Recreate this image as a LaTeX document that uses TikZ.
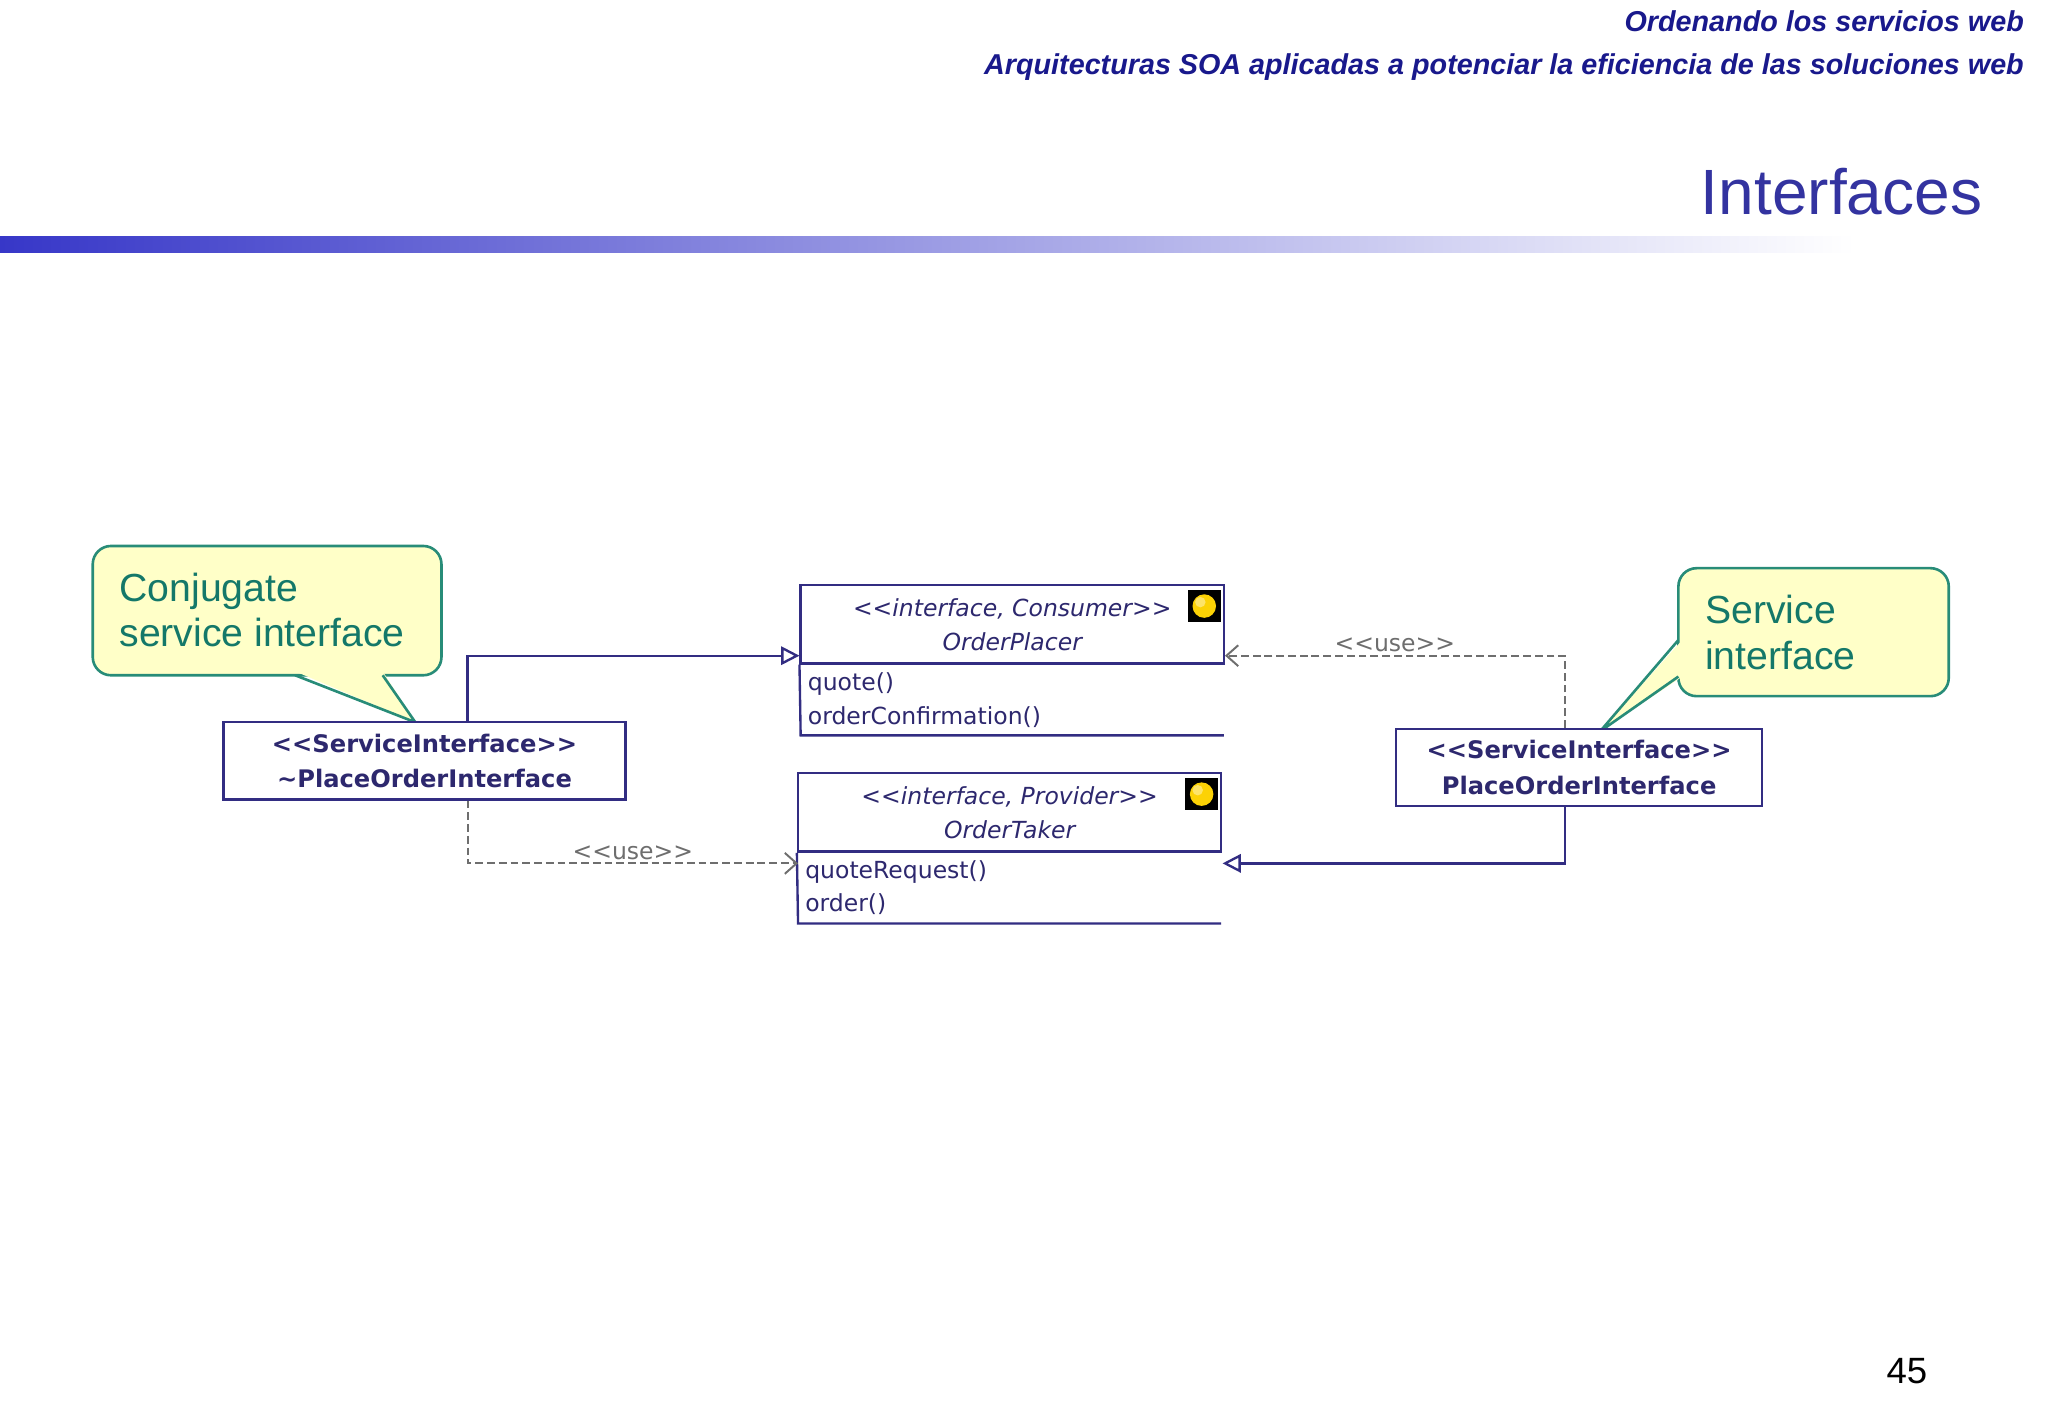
\documentclass[tikz,border=0pt]{standalone}
\usepackage{fontspec}
\setmainfont{Liberation Sans}
\newfontfamily\umlf{DejaVu Sans}
\usetikzlibrary{arrows.meta}
\definecolor{hdr}{RGB}{25,25,140}
\definecolor{ttl}{RGB}{51,51,160}
\definecolor{umlc}{RGB}{45,40,110}
\definecolor{umll}{RGB}{50,45,130}
\definecolor{calf}{RGB}{255,255,200}
\definecolor{cald}{RGB}{40,140,120}
\definecolor{calt}{RGB}{20,120,105}
\definecolor{gry}{RGB}{110,110,110}
\tikzset{
 umlbox/.style={draw=umll,line width=1.8pt,fill=white,minimum width=#1,inner sep=0pt},
 si/.style={font=\umlf\bfseries\fontsize{18.5}{27}\selectfont,text=umlc,align=center},
 it/.style={font=\umlf\itshape\fontsize{18}{26}\selectfont,text=umlc,align=center},
 op/.style={font=\umlf\fontsize{18}{24}\selectfont,text=umlc,anchor=west},
 cal/.style={draw=cald,line width=2pt,fill=calf,rounded corners=14pt},
 calx/.style={font=\fontsize{30}{35}\selectfont,text=calt,align=left,anchor=north west},
 solidc/.style={draw=umll,line width=1.8pt,-{Triangle[open,length=14pt,width=14pt]}},
 usec/.style={draw=gry,line width=1.5pt,dashed,dash pattern=on 6pt off 3pt,-{Straight Barb[length=9pt,width=16pt]}},
 lbl/.style={font=\umlf\fontsize{18}{20}\selectfont,text=gry},
 icon/.style={fill=black,minimum size=25pt,inner sep=0pt}
}
\begin{document}
\begin{tikzpicture}[x=1pt,y=-1pt]
\useasboundingbox[fill=white] (0,0) rectangle (1568,1085);
% header
\node[anchor=east,font=\bfseries\itshape\fontsize{22}{26}\selectfont,text=hdr] (h1) at (1553,16) {Ordenando los servicios web};
\node[anchor=east,font=\bfseries\itshape\fontsize{22}{26}\selectfont,text=hdr] (h2) at (1553,51) {Arquitecturas SOA aplicadas a potenciar la eficiencia de las soluciones web};
\node[anchor=east,font=\fontsize{49}{60}\selectfont,text=ttl] (title) at (1521,147) {Interfaces};
\shade[left color={rgb,255:red,55;green,55;blue,200},right color=white] (0,181) rectangle (1420,193);
\node[font=\fontsize{28}{32}\selectfont] (pg) at (1460,1050) {45};
% callout 1
\draw[cal] (71,418) rectangle (338,517);
\fill[calf] (226,514) -- (318,553) -- (293,514) -- cycle;
\draw[cald,line width=2pt,line join=round] (226,517) -- (318,553) -- (293,517);
\node[calx] (c1) at (88,435) {Conjugate\\service interface};
% callout 2
\draw[cal] (1285,435) rectangle (1492,533);
\fill[calf] (1288,490) -- (1225,560) -- (1288,518) -- cycle;
\draw[cald,line width=2pt,line join=round] (1285,490) -- (1225,560) -- (1285,518);
\node[calx] (c2) at (1302,452) {Service\\interface};
% SI boxes
\node[umlbox=308pt,minimum height=59pt,si] (si1) at (325,582.5) {<<ServiceInterface>>\\\textasciitilde PlaceOrderInterface};
\node[umlbox=280pt,minimum height=59pt,si] (si2) at (1209,587.5) {<<ServiceInterface>>\\PlaceOrderInterface};
% OrderPlacer
\node[umlbox=324pt,minimum height=60pt,it] (op) at (775,478) {<<interface, Consumer>>\\OrderPlacer};
\draw[umll,line width=1.8pt] (op.south west) -- (613,563) -- (937,563);
\node[op] (q1) at (615,524) {quote()};
\node[op] (q2) at (615,549) {orderConfirmation()};
\node[icon] (i1) at (922,464) {};
\fill[yellow!70!orange] (i1) circle (9pt);
\fill[white,opacity=.4] ([shift={(-3,-3)}]i1.center) circle (4pt);
% OrderTaker
\node[umlbox=324pt,minimum height=60pt,it] (ot) at (773,622) {<<interface, Provider>>\\OrderTaker};
\draw[umll,line width=1.8pt] (ot.south west) -- (611,707) -- (935,707);
\node[op] (q3) at (613,668) {quoteRequest()};
\node[op] (q4) at (613,692) {order()};
\node[icon] (i2) at (920,608) {};
\fill[yellow!70!orange] (i2) circle (9pt);
\fill[white,opacity=.4] ([shift={(-3,-3)}]i2.center) circle (4pt);
% connectors
\draw[solidc] ([xshift=33pt]si1.north) |- ([yshift=-24pt]op.west);
\draw[usec] ([xshift=33pt]si1.south) |- (611,661) node[pos=0.75,above,lbl,yshift=-1pt] {<<use>>};
\draw[usec] ([xshift=-11pt]si2.north) |- ([yshift=-24pt]op.east) node[pos=0.75,above,lbl,yshift=-1pt] {<<use>>};
\draw[solidc] ([xshift=-11pt]si2.south) |- (936,661);
\end{tikzpicture}
\end{document}
